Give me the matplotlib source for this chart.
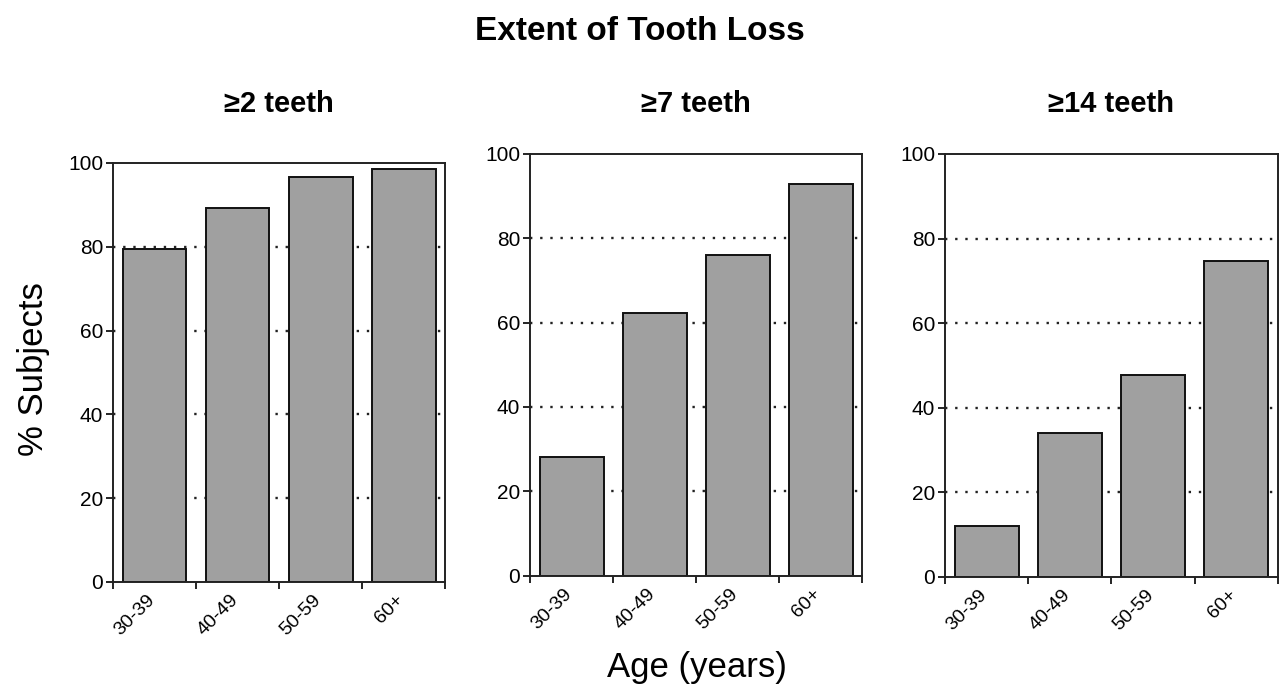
import numpy as np
import matplotlib.pyplot as plt
import matplotlib.transforms as mtrans

plt.rcParams['font.family'] = ['Liberation Sans', 'DejaVu Sans']

ages = ['30-39', '40-49', '50-59', '60+']
titles = ['\u22652 teeth', '\u22657 teeth', '\u226514 teeth']
teeth2 = [79.5, 89.3, 96.6, 98.6]
teeth7 = [28.1, 62.2, 76.1, 93.0]
teeth14 = [12.0, 33.9, 47.7, 74.7]
series = [teeth2, teeth7, teeth14]

fig = plt.figure(figsize=(12.8, 6.93), dpi=100)
boxes = [[0.0883, 0.1602, 0.2594, 0.6046],
         [0.4141, 0.1693, 0.2594, 0.6085],
         [0.7383, 0.1678, 0.2600, 0.6100]]
shift = mtrans.ScaledTranslation(-8 / 100, 0, fig.dpi_scale_trans)

x = np.arange(len(ages))
for box, vals, title in zip(boxes, series, titles):
    ax = fig.add_axes(box)
    ax.set_axisbelow(True)
    for g in [20, 40, 60, 80]:
        ax.axhline(g, color='#222222', lw=1.7, linestyle=(0, (1, 3.3)), zorder=0)
    ax.bar(x, vals, width=0.77, color='#a0a0a0', edgecolor='#111111', linewidth=1.4, zorder=2)
    ax.set_xlim(-0.5, 3.5)
    ax.set_ylim(0, 100)
    ax.set_yticks([0, 20, 40, 60, 80, 100])
    ax.tick_params(axis='y', labelsize=15, length=5, width=1.2, direction='out', pad=2)
    ax.set_xticks(np.arange(-0.5, 4.0, 1.0))
    ax.set_xticklabels([])
    ax.tick_params(axis='x', which='major', length=5, width=1.2, direction='out')
    ax.set_xticks(x, minor=True)
    ax.set_xticklabels(ages, minor=True, rotation=45, ha='right', rotation_mode='anchor', fontsize=14)
    ax.tick_params(axis='x', which='minor', length=0, pad=7)
    for lab in ax.get_xticklabels(minor=True):
        lab.set_transform(lab.get_transform() + shift)
    for s in ax.spines.values():
        s.set_linewidth(1.4)
        s.set_color('#222222')
    fig.text(box[0] + box[2] / 2, 1 - 104 / 693, title, ha='center', va='center',
             fontsize=21, fontweight='bold')

fig.text(0.5, 1 - 31 / 693, 'Extent of Tooth Loss', ha='center', va='center', fontsize=24, fontweight='bold')
fig.text(0.026, 0.467, '% Subjects', ha='center', va='center', rotation=90, fontsize=25)
fig.text(697 / 1280, 1 - 668 / 693, 'Age (years)', ha='center', va='center', fontsize=25)

fig.savefig('out.png', dpi=100)
